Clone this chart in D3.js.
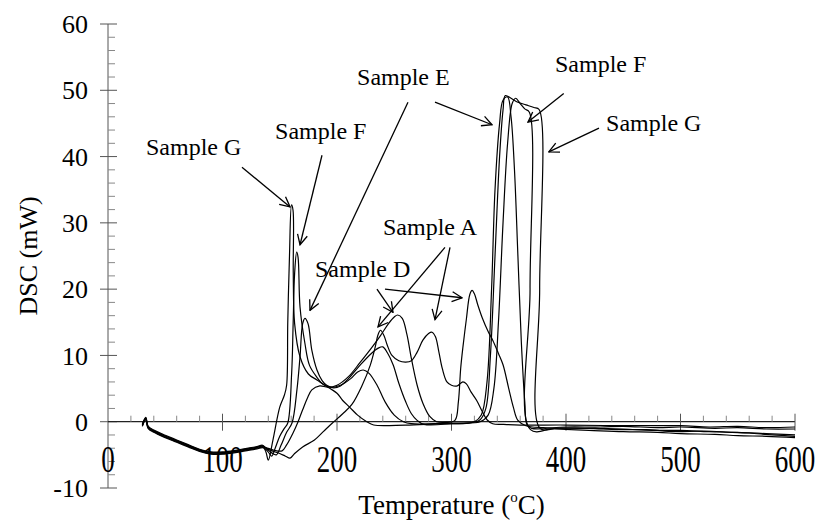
<!DOCTYPE html>
<html>
<head>
<meta charset="utf-8">
<script src="https://cdn.jsdelivr.net/npm/d3@7"></script>
<style>
  html, body { margin: 0; padding: 0; background: #fff; }
  svg { display: block; }
  text { font-family: "Liberation Serif", "Times New Roman", serif; fill: #000; }
</style>
</head>
<body>
<svg id="chart" width="819" height="524"></svg>
<script>
// DSC traces, [temperature °C, heat flow mW]
const baseStart = [[30,-0.5],[33,0.5],[35,-0.8],[40,-1.4],[50,-2.2],[60,-2.9],[70,-3.6],[80,-4.3],[90,-4.7],[100,-4.7],[110,-4.5],[120,-4.2],[130,-3.9],[135,-3.7]];

const sampleG = [[138,-4.6],[140,-5.8],[144,-2.8],[150,2.2],[154,4.0],[156,5.5],[157,15],[158.5,25],[160.3,32.7],[161.6,31.9],[161.8,22.4],[163,14.8],[167.7,9.8],[175,7.2],[182.5,6.3],[194,5.0],[200,4.3],[205,3.2],[211,2.2],[218,1.0],[226,0],[232,-0.5],[260,-0.5],[290,-0.3],[315,-0.2],[325,0.3],[330,2],[334,10],[338,25],[342,40],[345,47],[347,49.2],[352,48.8],[358,48.2],[365,47.8],[372,47.4],[376.5,47.1],[377,20],[377.3,-1],[390,-1.1],[420,-1.3],[450,-1.5],[480,-1.6],[500,-1.8],[530,-1.9],[550,-2.1],[575,-2.2],[600,-2.4]];

const sampleF = [[138,-4.2],[141,-4.8],[143,-5.2],[146,-4.0],[150,-2.2],[154,-1.0],[157,-0.2],[160.4,7.3],[161.7,14.8],[163,22.4],[164.8,25.6],[166,24.8],[167.7,17.3],[172,11.8],[176,8.5],[182.5,6.7],[188,5.6],[195,5.2],[203,5.5],[212,6.5],[218,7.5],[223,7.8],[228,7.3],[235,5.5],[242,3.0],[250,1.0],[258,0],[265,-0.3],[300,-0.2],[325,0],[332,1],[337,5],[341,15],[345,30],[349,42],[353,48],[356,48.8],[360,48],[364,47.2],[368,46.7],[368.6,20],[369,-1.2],[390,-1.0],[420,-1.0],[450,-1.1],[475,-1.3],[500,-1.3],[525,-1.5],[550,-1.6],[575,-1.8],[600,-2.0]];

const sampleE = [[138,-4.0],[143,-4.7],[147,-5.0],[151,-3.6],[156,-1.6],[160.7,-0.2],[165,4.8],[167.7,9.8],[170,14.8],[172,15.6],[174.7,14.8],[178,10.8],[182.5,7.8],[187,6.2],[191,5.5],[197,5.1],[203,5.4],[210,6.5],[220,8.5],[230,10.3],[236,11.1],[240,11.3],[244,10.4],[249,8.6],[254,5.8],[260,3.0],[265,1.2],[270,0.2],[276,-0.4],[300,-0.3],[320,0],[326,1],[331,6],[335,20],[338,35],[342,45],[345,48.5],[349,49],[352,46],[355,38],[358,25],[361,12],[364,3],[366,-0.5],[370,-1.0],[400,-0.8],[430,-0.8],[450,-0.7],[480,-0.9],[500,-0.8],[530,-1.0],[550,-0.9],[575,-1.1],[600,-1.1]];

const sampleD = [[138,-3.9],[145,-4.3],[152,-4.4],[156,-3.5],[161.6,-1.7],[166,0],[170,1.8],[174,3.5],[178,4.8],[185,5.4],[192,5.2],[200,5.5],[210,6.8],[220,8.9],[230,11.1],[238,13.0],[245,14.8],[250,15.8],[253,16.1],[257,15.6],[261,13.2],[265,9.5],[270,5.5],[275,2.8],[281,0.8],[287,0],[295,-0.1],[303,0.2],[306,3],[308,8],[310,11.3],[313,15.5],[316,19.2],[318,19.8],[320,19.3],[323,17.6],[327,15.6],[332,13.6],[336,12.3],[341,10.3],[345,8.6],[350,5.0],[354,2.2],[358,0.2],[365,-0.6],[380,-0.9],[420,-1.0],[445,-1.2],[470,-1.2],[495,-1.5],[520,-1.4],[545,-1.6],[560,-1.7],[580,-2.0],[600,-2.2]];

const sampleA = [[138,-4.0],[145,-4.5],[150,-4.8],[155,-5.2],[159,-5.5],[163,-4.8],[170,-3.8],[180,-2.8],[188,-1.5],[196,-0.2],[205,1.2],[213,2.6],[222,5.5],[229,8.5],[233,11],[236,13.2],[238,13.8],[241,13],[244,11.5],[248,10],[254,9.2],[260,9],[265,9.2],[270,10.5],[275,12.3],[280,13.3],[283,13.5],[286,12.8],[289,10.5],[292,8],[296,6],[300,5.5],[305,5.4],[308,5.8],[310,6.0],[313,5.7],[317,4.5],[322,3.2],[327,1.5],[331,0.3],[336,-0.3],[345,-0.4],[360,-0.5],[400,-0.5],[450,-0.6],[500,-0.6],[525,-0.8],[550,-0.7],[575,-0.9],[600,-0.8]];

const seriesNames = ["A", "D", "E", "F", "G"];
const seriesData = [sampleA, sampleD, sampleE, sampleF, sampleG];
const startOffsets = [0.15, -0.1, 0.05, -0.2, 0];

const xTickLabels = [0, 100, 200, 300, 400, 500, 600];
const yTickLabels = [-10, 0, 10, 20, 30, 40, 50, 60];

// annotation labels: text anchor and arrow from → to, in data units
const labelTexts = ["Sample G", "Sample F", "Sample E", "Sample F", "Sample G", "Sample A", "Sample D"];
const labelAt = [[33.2,40.2],[145.9,42.6],[217.5,50.8],[390.4,52.7],[435,43.8],[240.2,28.2],[180.8,21.8]];
const arrowLines = [
  [[117,38.4],[159,32.4]],
  [[186.9,40.2],[167.7,26.7]],
  [[262,48.2],[176.4,16.8]],
  [[285.6,48.2],[335.4,44.8]],
  [[398,49.5],[366.8,45.2]],
  [[428.8,44.3],[385,40.7]],
  [[294.3,26.3],[235.8,14.3]],
  [[298.7,26.3],[285.6,15.4]],
  [[234.9,20.0],[248.9,16.5]],
  [[241.9,20.0],[309.2,18.7]]
];

const svg = d3.select("#chart");
const W = 819, H = 524;
svg.append("rect").attr("width", W).attr("height", H).attr("fill", "#fff");

const x = d3.scaleLinear().domain([0, 600]).range([108, 795]);
const y = d3.scaleLinear().domain([-10, 60]).range([488, 24]);

const axisColor = "#555";

// y axis
const gy = svg.append("g");
gy.append("line").attr("x1", x(0)).attr("x2", x(0)).attr("y1", y(60)).attr("y2", y(-10))
  .attr("stroke", axisColor).attr("stroke-width", 1);
gy.selectAll("line.minor").data(d3.range(-10, 60.1, 2).filter(v => v % 10 !== 0)).join("line")
  .attr("class", "minor")
  .attr("x1", x(0)).attr("x2", x(0) + 7).attr("y1", d => y(d)).attr("y2", d => y(d))
  .attr("stroke", "#888").attr("stroke-width", 1);
gy.selectAll("line.major").data(yTickLabels).join("line")
  .attr("class", "major")
  .attr("x1", x(0) - 8).attr("x2", x(0) + 9).attr("y1", d => y(d)).attr("y2", d => y(d))
  .attr("stroke", axisColor).attr("stroke-width", 1);
gy.selectAll("text").data(yTickLabels).join("text")
  .attr("x", 88).attr("y", d => y(d)).attr("dy", "0.35em")
  .attr("text-anchor", "end").attr("font-size", 26)
  .text(d => d < 0 ? "-" + Math.abs(d) : d);

// x axis along zero
const gx = svg.append("g");
gx.append("line").attr("x1", x(0)).attr("x2", x(600)).attr("y1", y(0)).attr("y2", y(0))
  .attr("stroke", "#222").attr("stroke-width", 1.2);
gx.selectAll("line.minor").data(d3.range(20, 600, 20).filter(v => v % 100 !== 0)).join("line")
  .attr("class", "minor")
  .attr("x1", d => x(d)).attr("x2", d => x(d)).attr("y1", y(0)).attr("y2", y(0) - 6)
  .attr("stroke", "#888").attr("stroke-width", 1);
gx.selectAll("line.major").data(xTickLabels.filter(v => v > 0)).join("line")
  .attr("class", "major")
  .attr("x1", d => x(d)).attr("x2", d => x(d)).attr("y1", y(0) - 8).attr("y2", y(0) + 9)
  .attr("stroke", axisColor).attr("stroke-width", 1);
// tall, narrow numerals under the x axis
gx.selectAll("text").data(xTickLabels).join("text")
  .attr("transform", d => `translate(${x(d)}, 472) scale(1, 1.38)`)
  .attr("text-anchor", "middle").attr("font-size", 27)
  .text(d => d);

// axis titles
svg.append("text")
  .attr("transform", `translate(37, ${y(25)}) rotate(-90)`)
  .attr("text-anchor", "middle").attr("font-size", 26)
  .text("DSC (mW)");
const xt = svg.append("text")
  .attr("x", x(300)).attr("y", 514)
  .attr("text-anchor", "middle").attr("font-size", 27);
xt.append("tspan").text("Temperature (");
xt.append("tspan").attr("font-size", 15).attr("dy", -12).text("o");
xt.append("tspan").attr("dy", 12).text("C)");

// traces
const line = d3.line()
  .x(d => x(d[0]))
  .y(d => y(d[1]))
  .curve(d3.curveCatmullRom.alpha(0.5));

seriesData.forEach((pts, i) => {
  const full = baseStart.map(p => [p[0], p[1] + startOffsets[i]]).concat(pts);
  svg.append("path")
    .datum(full)
    .attr("fill", "none")
    .attr("stroke", "#000")
    .attr("stroke-width", 1.2)
    .attr("stroke-linejoin", "round")
    .attr("d", line);
});

// annotations
svg.append("defs").append("marker")
  .attr("id", "arrowOpen")
  .attr("viewBox", "0 0 12 12")
  .attr("refX", 11).attr("refY", 6)
  .attr("markerWidth", 12).attr("markerHeight", 12)
  .attr("markerUnits", "userSpaceOnUse")
  .attr("orient", "auto")
  .append("path")
  .attr("d", "M1,1 L11,6 L1,11")
  .attr("fill", "none").attr("stroke", "#000").attr("stroke-width", 1.3);

svg.selectAll("line.arrow").data(arrowLines).join("line")
  .attr("class", "arrow")
  .attr("x1", d => x(d[0][0])).attr("y1", d => y(d[0][1]))
  .attr("x2", d => x(d[1][0])).attr("y2", d => y(d[1][1]))
  .attr("stroke", "#000").attr("stroke-width", 1.3)
  .attr("marker-end", "url(#arrowOpen)");

svg.selectAll("text.sample").data(labelTexts).join("text")
  .attr("class", "sample")
  .attr("x", (d, i) => x(labelAt[i][0]))
  .attr("y", (d, i) => y(labelAt[i][1]))
  .attr("font-size", 24)
  .text(d => d);
</script>
</body>
</html>
